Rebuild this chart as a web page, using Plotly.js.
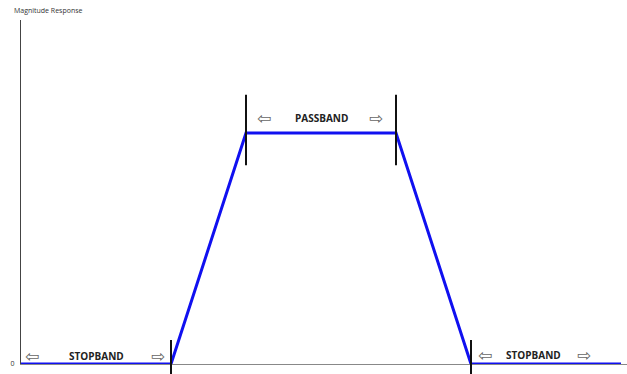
<!DOCTYPE html>
<html>
<head>
<meta charset="utf-8">
<script src="https://cdn.plot.ly/plotly-3.0.1.min.js"></script>
<style>html,body{margin:0;padding:0;background:#fff;}#chart{width:627px;height:374px;}</style>
</head>
<body>
<div id="chart"></div>
<script>
// Frequency breakpoints (arbitrary units) and magnitude values
const freq = [0, 2, 3, 5, 6, 8];
const magnitude = [0, 0, 1, 1, 0, 0];
// Band edge markers
const edgeBottom = [2, 6];
const edgeTop = [3, 5];
// Labels
const bandLabels = ['STOPBAND', 'PASSBAND', 'STOPBAND'];
const bandCenters = [1.0, 4.0, 6.83];
const bandY = [0.035, 1.065, 0.04];
const leftArrowX = [0.15, 3.24, 6.19];
const rightArrowX = [1.83, 4.73, 7.5];
const yTickVals = [0];
const yTickText = ['0'];

const trace = {
  x: freq, y: magnitude, type: 'scatter', mode: 'lines',
  line: {color: '#1010f0', width: 3}, hoverinfo: 'skip', cliponaxis: false
};

const shapes = [];
edgeBottom.forEach(x => shapes.push({type: 'line', xref: 'x', yref: 'paper', x0: x, x1: x, y0: -0.035, y1: 0.07, line: {color: '#111', width: 2}}));
edgeTop.forEach(x => shapes.push({type: 'line', xref: 'x', yref: 'y', x0: x, x1: x, y0: 0.86, y1: 1.165, line: {color: '#111', width: 2}}));

const annotations = [];
bandLabels.forEach((t, i) => {
  annotations.push({x: bandCenters[i], y: bandY[i], xref: 'x', yref: 'y', text: '<b>' + t + '</b>', showarrow: false,
    font: {family: 'Open Sans, Liberation Sans, sans-serif', size: 10, color: '#222'}});
  annotations.push({x: leftArrowX[i], y: bandY[i], xref: 'x', yref: 'y', text: '\u21E6', showarrow: false,
    font: {family: 'DejaVu Sans', size: 17, color: '#666'}});
  annotations.push({x: rightArrowX[i], y: bandY[i], xref: 'x', yref: 'y', text: '\u21E8', showarrow: false,
    font: {family: 'DejaVu Sans', size: 17, color: '#666'}});
});

const layout = {
  width: 627, height: 374,
  margin: {l: 21, r: 0, t: 20, b: 10, pad: 0},
  paper_bgcolor: '#fff', plot_bgcolor: '#fff',
  showlegend: false,
  title: {text: 'Magnitude Response', x: 14 / 627, xanchor: 'left', xref: 'container', y: 1 - 11 / 374, yanchor: 'middle', yref: 'container',
    font: {family: 'Open Sans, sans-serif', size: 7, color: '#333'}},
  xaxis: {range: [0, 8.08], showline: true, linecolor: '#888', linewidth: 1, showgrid: false, zeroline: false,
    showticklabels: false, ticks: '', layer: 'below traces', fixedrange: true},
  yaxis: {range: [0, 1.489], showline: true, linecolor: '#444', linewidth: 1, showgrid: false, zeroline: false,
    tickvals: yTickVals, ticktext: yTickText, ticks: '', ticklabelstandoff: 4, tickfont: {family: 'Open Sans, sans-serif', size: 7, color: '#333'},
    layer: 'below traces', fixedrange: true},
  shapes: shapes,
  annotations: annotations
};

Plotly.newPlot('chart', [trace], layout, {displayModeBar: false, staticPlot: true});
</script>
</body>
</html>
